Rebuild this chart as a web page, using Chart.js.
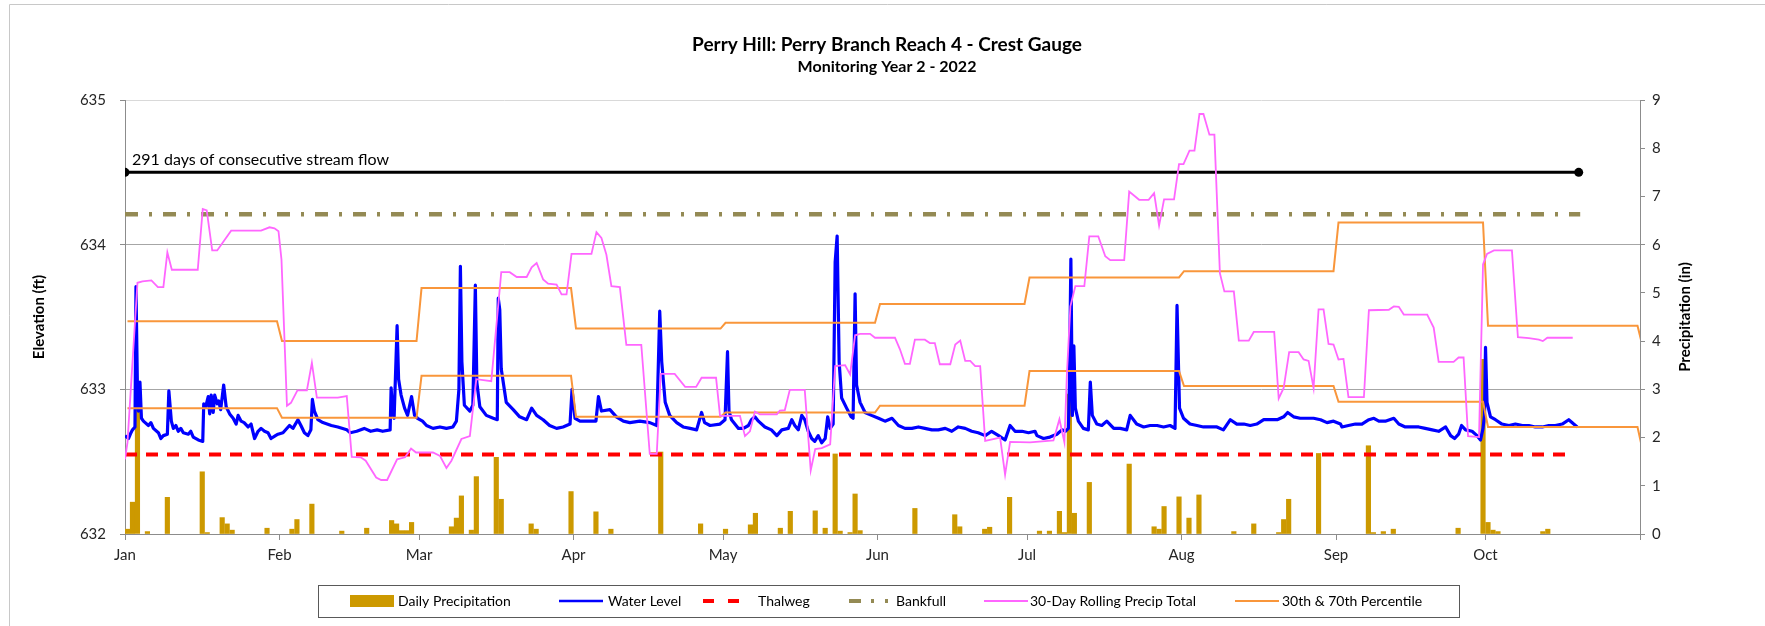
<!DOCTYPE html>
<html>
<head>
<meta charset="utf-8">
<title>Perry Branch Reach 4 - Crest Gauge</title>
<script src="https://cdn.jsdelivr.net/npm/chart.js@4.4.1/dist/chart.umd.min.js"></script>
<style>
  html, body { margin: 0; padding: 0; background: #ffffff; }
  #wrap { position: relative; width: 1765px; height: 626px; }
</style>
</head>
<body>
<div id="wrap"><canvas id="crestChart" width="1765" height="626"></canvas></div>
<script>
// ======================
// DATA (x = days since Jan 1 2022)
// ======================
const MONTH_START = [0, 31, 59, 90, 120, 151, 181, 212, 243, 273, 304];
const MONTH_LABELS = ["Jan", "Feb", "Mar", "Apr", "May", "Jun", "Jul", "Aug", "Sep", "Oct", ""];

// crest gauge water level, ft
const WATER_LEVEL = [
  [0,632.68],[0.7,632.66],[1.2,632.70],[1.5,632.72],[2.0,632.74],[2.2,633.71],[2.5,633.00],[2.7,632.85],[3.0,633.05],[3.3,632.80],
  [3.7,632.78],[4.7,632.75],[5.2,632.77],[5.7,632.73],[6.7,632.70],[7.2,632.66],[7.7,632.68],[8.5,632.69],[8.8,632.99],[9.3,632.78],
  [9.7,632.73],[10.2,632.75],[10.7,632.71],[11.2,632.73],[11.7,632.70],[12.7,632.69],[13.2,632.71],[13.7,632.67],[14.7,632.65],[15.6,632.64],
  [15.8,632.90],[16.2,632.88],[16.7,632.95],[17.0,632.83],[17.3,632.96],[17.7,632.84],[18.0,632.96],[18.5,632.90],[18.8,632.92],[19.2,632.86],
  [19.8,633.03],[20.3,632.88],[21.0,632.83],[21.7,632.80],[22.3,632.76],[22.7,632.82],[23.3,632.78],[23.9,632.77],[24.7,632.74],[25.3,632.76],
  [26.0,632.66],[26.7,632.71],[27.3,632.73],[28.0,632.71],[28.7,632.70],[29.3,632.66],[30.2,632.68],[30.7,632.69],[31.7,632.70],[33.0,632.75],
  [33.7,632.73],[34.7,632.79],[35.3,632.75],[36.0,632.70],[36.7,632.68],[37.3,632.72],[37.6,632.93],[38.0,632.85],[38.7,632.79],[39.7,632.77],
  [41.4,632.75],[42.7,632.74],[44.5,632.72],[45.2,632.70],[46.5,632.71],[48.0,632.73],[49.3,632.71],[50.6,632.72],[51.7,632.71],[53.2,632.72],
  [53.4,633.01],[53.7,632.85],[54.0,632.80],[54.6,633.44],[54.9,633.07],[55.4,632.96],[56.1,632.87],[56.7,632.82],[57.5,632.95],[58.1,632.82],
  [58.7,632.80],[59.7,632.78],[60.5,632.75],[61.8,632.73],[63.2,632.74],[64.5,632.73],[65.8,632.74],[66.5,632.78],[67.0,633.00],[67.3,633.85],
  [67.6,633.19],[68.1,632.89],[69.2,632.85],[69.8,632.89],[70.3,633.72],[70.6,633.05],[71.2,632.88],[72.5,632.82],[73.9,632.80],[74.7,632.79],
  [74.9,633.63],[75.2,633.55],[75.5,633.14],[76.5,632.91],[77.9,632.86],[79.2,632.81],[80.6,632.79],[81.6,632.87],[82.6,632.82],[83.9,632.79],
  [85.2,632.75],[86.6,632.73],[87.9,632.74],[89.3,632.76],[89.7,633.00],[90.3,632.80],[91.3,632.78],[92.6,632.78],[94.5,632.78],[95.0,632.95],
  [95.6,632.85],[97.3,632.86],[98.6,632.81],[100.0,632.78],[101.3,632.77],[103.3,632.78],[105.3,632.77],[106.7,632.75],[107.3,633.54],[107.7,633.19],
  [108.4,632.91],[109.3,632.82],[110.7,632.77],[112.0,632.74],[113.4,632.73],[114.7,632.72],[115.7,632.84],[116.3,632.77],[117.4,632.75],[119.4,632.76],
  [120.4,632.79],[120.9,633.26],[121.2,632.85],[121.7,632.79],[123.1,632.73],[124.1,632.73],[125.1,632.75],[125.7,632.79],[126.4,632.81],[127.1,632.78],
  [128.4,632.74],[129.7,632.72],[130.8,632.68],[131.8,632.72],[133.1,632.73],[133.8,632.79],[134.4,632.75],[135.1,632.72],[135.8,632.82],[136.4,632.79],
  [137.1,632.71],[137.8,632.66],[138.4,632.64],[139.1,632.68],[139.8,632.63],[140.5,632.66],[141.0,632.81],[141.5,632.73],[142.1,632.76],[142.5,633.88],
  [142.9,634.06],[143.3,633.19],[143.8,632.94],[144.8,632.87],[145.7,632.81],[146.1,632.80],[146.5,633.66],[146.8,633.03],[147.5,632.91],[148.5,632.84],
  [149.8,632.82],[151.2,632.80],[152.5,632.78],[153.9,632.80],[155.2,632.75],[156.5,632.73],[157.9,632.73],[159.2,632.74],[160.5,632.73],[161.9,632.72],
  [163.2,632.72],[164.6,632.73],[165.9,632.71],[167.2,632.74],[168.6,632.73],[169.9,632.71],[171.2,632.70],[172.6,632.68],[173.9,632.71],[175.3,632.68],
  [176.6,632.65],[177.6,632.75],[178.6,632.71],[180.0,632.71],[181.3,632.70],[182.6,632.71],[183.0,632.68],[184.3,632.66],[185.6,632.67],[187.0,632.69],
  [188.0,632.72],[188.7,632.71],[189.3,632.73],[189.5,633.03],[189.8,633.90],[190.1,632.82],[190.4,633.30],[190.7,632.87],[191.3,632.78],[192.3,632.73],
  [193.3,632.72],[193.7,633.05],[194.1,632.82],[195.0,632.76],[196.0,632.75],[197.0,632.78],[198.4,632.73],[199.7,632.73],[201.0,632.72],[201.7,632.82],
  [203.0,632.76],[204.4,632.74],[205.7,632.75],[207.1,632.75],[208.4,632.74],[209.7,632.75],[210.7,632.73],[211.1,633.58],[211.6,632.87],[212.4,632.80],
  [213.7,632.76],[215.1,632.75],[216.4,632.74],[217.8,632.74],[219.1,632.74],[220.4,632.72],[221.8,632.79],[223.1,632.76],[224.5,632.76],[225.8,632.75],
  [227.1,632.76],[228.5,632.79],[229.8,632.79],[231.2,632.79],[232.5,632.81],[233.3,632.84],[234.5,632.81],[235.8,632.80],[237.2,632.80],[238.5,632.80],
  [239.9,632.79],[241.2,632.77],[242.5,632.78],[243.9,632.76],[244.2,632.74],[245.5,632.75],[246.9,632.76],[248.2,632.76],[249.6,632.79],[250.6,632.80],
  [251.6,632.78],[252.9,632.78],[254.6,632.80],[255.6,632.76],[256.9,632.74],[258.3,632.74],[259.6,632.74],[260.9,632.73],[262.3,632.72],[263.6,632.71],
  [265.0,632.74],[266.0,632.68],[266.8,632.66],[267.6,632.69],[268.2,632.75],[269.0,632.72],[270.3,632.71],[271.3,632.68],[272.0,632.65],[272.5,632.73],
  [272.8,632.82],[273.0,633.29],[273.3,632.91],[274.0,632.81],[275.0,632.79],[276.3,632.76],[277.7,632.75],[279.0,632.76],[280.4,632.75],[281.7,632.75],
  [283.0,632.74],[284.4,632.74],[285.7,632.75],[287.0,632.75],[288.4,632.76],[289.7,632.79],[290.7,632.76],[291.4,632.74]
];

// 30-day rolling precipitation total, in
const ROLLING_30D = [
  [0,1.55],[0.5,1.90],[2.5,5.21],[3.5,5.24],[5.3,5.26],[6.6,5.12],[7.7,5.12],[8.5,5.84],[9.4,5.48],[14.6,5.48],
  [15.6,6.74],[16.4,6.71],[17.5,5.88],[18.5,5.88],[21.3,6.29],[27.3,6.29],[29.0,6.36],[30.0,6.34],[30.8,6.28],[31.4,5.69],
  [32.5,2.66],[33.3,2.72],[34.6,2.98],[36.5,2.98],[37.5,3.55],[38.5,2.83],[42.7,2.83],[44.5,2.86],[45.5,1.60],[47.3,1.59],
  [48.3,1.52],[50.4,1.17],[51.4,1.12],[52.6,1.12],[54.6,1.55],[56.2,1.59],[57.4,1.77],[58.4,1.69],[61.8,1.69],[63.2,1.62],
  [64.5,1.37],[65.5,1.52],[67.5,1.97],[69.2,2.03],[70.5,3.21],[73.5,3.17],[75.5,5.43],[77.2,5.43],[78.6,5.33],[80.6,5.33],
  [81.6,5.53],[82.6,5.62],[83.9,5.28],[84.9,5.19],[86.6,5.17],[87.6,4.97],[88.6,4.97],[89.6,5.81],[93.6,5.81],[94.6,6.26],
  [95.6,6.14],[96.6,5.79],[97.6,5.14],[99.3,5.12],[100.6,3.92],[103.6,3.92],[105.3,1.66],[106.7,1.66],[107.5,3.32],[110.3,3.32],
  [112.4,3.05],[114.6,3.05],[115.7,3.24],[118.6,3.24],[119.4,2.45],[123.4,2.45],[124.4,2.03],[125.4,2.13],[126.4,2.54],[127.4,2.48],
  [130.8,2.48],[131.4,2.56],[132.4,2.57],[133.4,2.99],[136.4,2.99],[137.6,1.32],[138.5,1.76],[139.8,1.78],[141.5,1.86],[142.5,3.48],
  [144.5,3.50],[145.5,3.31],[146.5,4.12],[147.5,4.15],[149.5,4.15],[150.5,4.07],[154.5,4.07],[155.5,3.83],[156.5,3.53],[157.5,3.53],
  [158.5,4.03],[160.5,4.03],[161.5,3.96],[162.5,3.96],[163.5,3.52],[165.6,3.52],[166.6,3.93],[167.6,4.01],[168.6,3.59],[169.6,3.59],
  [170.6,3.48],[171.6,3.48],[172.6,1.93],[175.6,2.00],[176.6,1.23],[177.6,1.91],[181.6,1.90],[186.3,1.94],[187.5,2.38],[188.5,1.90],
  [189.0,3.31],[189.7,4.72],[190.7,5.14],[192.5,5.14],[193.5,6.17],[195.3,6.17],[196.7,5.76],[197.7,5.68],[200.5,5.68],[201.5,7.10],
  [203.5,6.93],[205.4,6.93],[206.5,7.07],[207.5,6.40],[208.5,6.94],[210.5,6.94],[211.5,7.67],[212.4,7.67],[213.6,7.95],[214.6,7.95],
  [215.6,8.71],[216.4,8.71],[217.6,8.28],[218.6,8.28],[219.7,5.41],[220.6,5.03],[222.5,5.03],[223.5,4.01],[225.5,4.01],[226.5,4.19],
  [230.6,4.19],[231.5,2.81],[232.5,3.03],[233.6,3.77],[235.5,3.77],[236.5,3.62],[237.5,3.59],[238.5,3.03],[239.5,4.66],[240.5,4.66],
  [241.5,3.94],[242.5,3.93],[243.5,3.62],[244.5,3.63],[245.5,2.84],[248.6,2.84],[249.6,4.64],[253.6,4.65],[254.6,4.72],[255.6,4.71],
  [256.6,4.55],[261.3,4.55],[262.6,4.28],[263.6,3.57],[266.6,3.57],[267.6,3.66],[268.6,3.66],[269.5,2.03],[271.7,2.01],[272.5,5.59],
  [273.3,5.81],[274.7,5.88],[278.3,5.88],[279.5,4.08],[281.7,4.06],[283.7,4.03],[284.5,4.00],[285.4,4.07],[290.5,4.07]
];

// daily precipitation: [day index, in]
const DAILY_PRECIP = [
  [0,0.10],[1,0.66],[2,3.10],[4,0.05],[8,0.76],[15,1.29],[16,0.03],[19,0.34],[20,0.21],[21,0.08],
  [28,0.12],[33,0.10],[34,0.30],[37,0.62],[43,0.06],[48,0.12],[53,0.28],[54,0.21],[55,0.07],[56,0.07],
  [57,0.24],[65,0.15],[66,0.33],[67,0.79],[69,0.08],[70,1.19],[74,1.59],[75,0.72],[81,0.21],[82,0.10],
  [89,0.88],[94,0.46],[97,0.10],[107,1.70],[115,0.21],[120,0.10],[125,0.19],[126,0.43],[131,0.12],[133,0.47],
  [138,0.48],[140,0.12],[142,1.66],[143,0.06],[145,0.03],[146,0.83],[147,0.07],[158,0.53],[166,0.40],[167,0.15],
  [172,0.10],[173,0.14],[177,0.76],[183,0.06],[185,0.06],[187,0.47],[188,0.03],[189,2.90],[190,0.43],[193,1.07],
  [201,1.45],[206,0.15],[207,0.10],[208,0.57],[211,0.77],[213,0.33],[215,0.81],[222,0.05],[226,0.21],[231,0.03],
  [232,0.30],[233,0.72],[239,1.67],[249,1.83],[250,0.03],[252,0.05],[254,0.10],[267,0.12],[272,3.62],[273,0.24],
  [274,0.08],[275,0.05],[284,0.05],[285,0.10]
];

// monthly 30th / 70th percentile precipitation, in (Jan..Nov)
const PCT_70 = [4.41, 4.00, 5.10, 4.26, 4.38, 4.77, 5.32, 5.45, 6.46, 4.32, 3.90];
const PCT_30 = [2.61, 2.41, 3.28, 2.43, 2.52, 2.66, 3.38, 3.07, 2.74, 2.22, 1.75];

// reference elevations, ft
const THALWEG_FT = 632.55;
const THALWEG_SPAN = [0, 289.5];
const BANKFULL_FT = 634.21;
const BANKFULL_SPAN = [0, 292];
const FLOW_FT = 634.5;
const FLOW_SPAN = [0, 291.7];
const FLOW_TEXT = "291 days of consecutive stream flow";


// ======================
// COLOURS / FONTS
// ======================
const GOLD = "#cc9900";
const BLUE = "#0000ff";
const RED = "#ff0000";
const OLIVE = "#948a54";
const PINK = "#ff66ff";
const ORANGE = "#f9963b";
const AXIS_GREY = "#8c8c8c";
const GRID_GREY = "#a6a6a6";
const FONT = "Lato, 'Liberation Sans', sans-serif";


// ======================
// BUILD POINTS
// ======================
const toXY = arr => arr.map(p => ({ x: p[0], y: p[1] }));

function monthlySteps(values) {
    const pts = [];
    for (let i = 0; i < 10; i++) {
        pts.push({ x: MONTH_START[i] + 0.5, y: values[i] });
        pts.push({ x: MONTH_START[i + 1] - 0.5, y: values[i] });
    }
    pts.push({ x: MONTH_START[10] + 0.5, y: values[10] });
    return pts;
}

const levelLine = (y, span) => [{ x: span[0], y: y }, { x: span[1], y: y }];


// ======================
// PLUGINS (titles, legend, frame)
// ======================
const decorations = {
    id: "decorations",
    afterDraw(chart) {
        const ctx = chart.ctx;
        const area = chart.chartArea;
        ctx.save();

        // outer frame (left + top edges visible)
        ctx.strokeStyle = "#c8c8c8";
        ctx.lineWidth = 1;
        ctx.beginPath();
        ctx.moveTo(9.5, 626);
        ctx.lineTo(9.5, 4.5);
        ctx.lineTo(1765, 4.5);
        ctx.stroke();

        // titles
        ctx.fillStyle = "#000";
        ctx.textAlign = "center";
        ctx.textBaseline = "middle";
        ctx.font = "bold 19px " + FONT;
        ctx.fillText("Perry Hill: Perry Branch Reach 4 - Crest Gauge", 887, 45);
        ctx.font = "bold 16px " + FONT;
        ctx.fillText("Monitoring Year 2 - 2022", 887, 67);

        // axis titles
        const midY = (area.top + area.bottom) / 2;
        ctx.font = "bold 15px " + FONT;
        ctx.save();
        ctx.translate(39, midY);
        ctx.rotate(-Math.PI / 2);
        ctx.fillText("Elevation (ft)", 0, 0);
        ctx.restore();
        ctx.save();
        ctx.translate(1685, midY);
        ctx.rotate(-Math.PI / 2);
        ctx.fillText("Precipitation (in)", 0, 0);
        ctx.restore();

        // stream flow note
        const xs = chart.scales.x;
        const ys = chart.scales.y;
        ctx.font = "16px " + FONT;
        ctx.textAlign = "left";
        ctx.textBaseline = "alphabetic";
        ctx.fillText(FLOW_TEXT, xs.getPixelForValue(FLOW_SPAN[0]) + 7, ys.getPixelForValue(FLOW_FT) - 7);

        // legend
        drawLegend(ctx);
        ctx.restore();
    }
};

function drawLegend(ctx) {
    const top = 585, bottom = 617, cy = 601;
    ctx.strokeStyle = "#595959";
    ctx.lineWidth = 1;
    ctx.strokeRect(318.5, top + 0.5, 1141, bottom - top);

    const items = [
        { label: "Daily Precipitation", sx: 350, tx: 398, kind: "box" },
        { label: "Water Level", sx: 559, tx: 608, kind: "line", color: BLUE, width: 2.5, dash: [] },
        { label: "Thalweg", sx: 703, tx: 758, kind: "line", color: RED, width: 4, dash: [11, 14] },
        { label: "Bankfull", sx: 849, tx: 896, kind: "bank" },
        { label: "30-Day Rolling Precip Total", sx: 984, tx: 1030, kind: "line", color: PINK, width: 2, dash: [] },
        { label: "30th & 70th Percentile", sx: 1235, tx: 1282, kind: "line", color: ORANGE, width: 2, dash: [] }
    ];

    ctx.font = "14px " + FONT;
    ctx.textAlign = "left";
    ctx.textBaseline = "middle";
    items.forEach(it => {
        if (it.kind === "box") {
            ctx.fillStyle = GOLD;
            ctx.fillRect(it.sx, cy - 6, 44, 12);
        } else if (it.kind === "bank") {
            ctx.strokeStyle = OLIVE;
            ctx.lineWidth = 4;
            ctx.setLineDash([]);
            ctx.beginPath();
            ctx.moveTo(it.sx, cy); ctx.lineTo(it.sx + 12, cy);
            ctx.moveTo(it.sx + 22, cy); ctx.lineTo(it.sx + 25, cy);
            ctx.moveTo(it.sx + 36, cy); ctx.lineTo(it.sx + 39, cy);
            ctx.stroke();
        } else {
            ctx.strokeStyle = it.color;
            ctx.lineWidth = it.width;
            ctx.setLineDash(it.dash);
            ctx.beginPath();
            ctx.moveTo(it.sx, cy);
            ctx.lineTo(it.sx + 44, cy);
            ctx.stroke();
            ctx.setLineDash([]);
        }
        ctx.fillStyle = "#000";
        ctx.fillText(it.label, it.tx, cy);
    });
}


// ======================
// CHART
// ======================
const crestChart = new Chart(document.getElementById("crestChart"), {
    type: "line",
    data: {
        datasets: [
            {
                label: "30-Day Rolling Precip Total",
                data: toXY(ROLLING_30D),
                yAxisID: "y2",
                borderColor: PINK,
                borderWidth: 1.8,
                pointRadius: 0,
                order: 1
            },
            {
                label: "70th Percentile",
                data: monthlySteps(PCT_70),
                yAxisID: "y2",
                borderColor: ORANGE,
                borderWidth: 2,
                pointRadius: 0,
                order: 2
            },
            {
                label: "30th Percentile",
                data: monthlySteps(PCT_30),
                yAxisID: "y2",
                borderColor: ORANGE,
                borderWidth: 2,
                pointRadius: 0,
                order: 2
            },
            {
                label: "Stream Flow",
                data: levelLine(FLOW_FT, FLOW_SPAN),
                yAxisID: "y",
                borderColor: "#000",
                borderWidth: 3,
                pointRadius: 4.5,
                pointBackgroundColor: "#000",
                pointBorderWidth: 0,
                order: 3
            },
            {
                label: "Bankfull",
                data: levelLine(BANKFULL_FT, BANKFULL_SPAN),
                yAxisID: "y",
                borderColor: OLIVE,
                borderWidth: 4.5,
                borderDash: [13, 11, 3, 11],
                pointRadius: 0,
                order: 4
            },
            {
                label: "Thalweg",
                data: levelLine(THALWEG_FT, THALWEG_SPAN),
                yAxisID: "y",
                borderColor: RED,
                borderWidth: 4,
                borderDash: [12, 9],
                pointRadius: 0,
                order: 4
            },
            {
                label: "Water Level",
                data: toXY(WATER_LEVEL),
                yAxisID: "y",
                borderColor: BLUE,
                borderWidth: 3.2,
                borderJoinStyle: "round",
                pointRadius: 0,
                order: 5
            },
            {
                type: "bar",
                label: "Daily Precipitation",
                data: DAILY_PRECIP.map(p => ({ x: p[0] + 0.5, y: p[1] })),
                yAxisID: "y2",
                backgroundColor: GOLD,
                barThickness: 4.5,
                order: 10
            }
        ]
    },
    options: {
        responsive: false,
        animation: false,
        devicePixelRatio: 1,
        layout: { padding: { top: 100, bottom: 62, left: 0, right: 0 } },
        plugins: {
            legend: { display: false },
            title: { display: false },
            tooltip: { enabled: false }
        },
        scales: {
            x: {
                type: "linear",
                min: 0,
                max: 304,
                offset: false,
                position: "bottom",
                afterBuildTicks: scale => {
                    scale.ticks = MONTH_START.map(v => ({ value: v }));
                },
                afterFit: scale => { scale.height = 30; },
                ticks: {
                    autoSkip: false,
                    maxRotation: 0,
                    padding: 6,
                    color: "#262626",
                    font: { family: FONT, size: 15 },
                    callback: v => MONTH_LABELS[MONTH_START.indexOf(v)] || ""
                },
                grid: { offset: false, drawOnChartArea: false, tickLength: 6, tickColor: AXIS_GREY },
                border: { color: AXIS_GREY, width: 1 }
            },
            y: {
                type: "linear",
                position: "left",
                min: 632,
                max: 635,
                afterFit: scale => { scale.width = 125; },
                ticks: {
                    stepSize: 1,
                    padding: 14,
                    color: "#262626",
                    font: { family: FONT, size: 15 }
                },
                grid: {
                    color: ctx => (ctx.tick && ctx.tick.value === 635 ? "#d9d9d9" : GRID_GREY),
                    tickLength: 5,
                    tickColor: AXIS_GREY
                },
                border: { color: AXIS_GREY, width: 1 }
            },
            y2: {
                type: "linear",
                position: "right",
                min: 0,
                max: 9,
                afterFit: scale => { scale.width = 125; },
                ticks: {
                    stepSize: 1,
                    padding: 7,
                    color: "#262626",
                    font: { family: FONT, size: 15 }
                },
                grid: { drawOnChartArea: false, tickLength: 5, tickColor: AXIS_GREY },
                border: { color: AXIS_GREY, width: 1 }
            }
        }
    },
    plugins: [decorations]
});
</script>
</body>
</html>
